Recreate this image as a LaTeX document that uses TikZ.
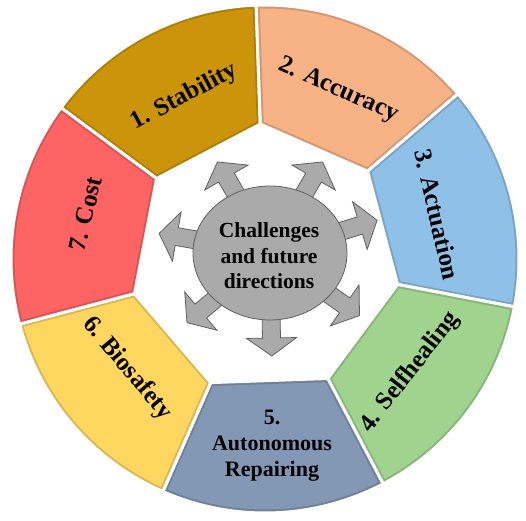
\documentclass[tikz,border=0pt]{standalone}
\usepackage{fontspec}
\setmainfont{Liberation Serif}
\definecolor{cA}{RGB}{204,148,10}
\definecolor{cB}{RGB}{247,178,134}
\definecolor{cC}{RGB}{143,193,232}
\definecolor{cD}{RGB}{160,212,142}
\definecolor{cE}{RGB}{130,152,180}
\definecolor{cF}{RGB}{255,215,96}
\definecolor{cG}{RGB}{255,100,100}
\definecolor{hubfill}{RGB}{170,170,170}
\definecolor{hubline}{RGB}{96,96,96}
\begin{document}
\begin{tikzpicture}[x=1pt,y=1pt,
  seglabel/.style={font=\fontsize{25}{28}\selectfont\bfseries, align=center, inner sep=0pt},
  hubtext/.style={font=\fontsize{21.5}{25.5}\selectfont\bfseries, align=center, inner sep=0pt},
  arrowsty/.style={fill=hubfill, draw=hubline, line width=0.8pt, line join=miter},
  hubsty/.style={fill=hubfill, draw=hubline, line width=0.8pt}]
\useasboundingbox (-265,-261) rectangle (261,259);
% ring segments
\foreach \i/\col in {1/cA,2/cB,3/cC,4/cD,5/cE,6/cF,7/cG}{
  \pgfmathsetmacro\c{117.714-(\i-1)*51.4286}
  \pgfmathsetmacro\a{\c-25.714}
  \pgfmathsetmacro\b{\c+25.714}
  \fill[\col] (\a:135) -- (\a:254) arc[start angle=\a,end angle=\b,radius=254] -- (\b:135) -- cycle;
  \begin{scope}
    \clip (\a:135) -- (\a:254) arc[start angle=\a,end angle=\b,radius=254] -- (\b:135) -- cycle;
    \draw[\col!85!black, line width=7pt, line join=round] (\a:135) -- (\a:254) arc[start angle=\a,end angle=\b,radius=254] -- (\b:135) -- cycle;
  \end{scope}
  \draw[white, line width=3pt, line join=round] (\a:135) -- (\a:254) arc[start angle=\a,end angle=\b,radius=254] -- (\b:135) -- cycle;
}
% labels
\node[seglabel, rotate=28] (s1) at (116.5:181) {1. Stability};
\node[seglabel, rotate=-24] (s2) at (66.5:184) {2. Accuracy};
\node[seglabel, rotate=-77] (s3) at (14.5:178) {3. Actuation};
\node[seglabel, rotate=52] (s4) at (-38:184) {4. Selfhealing};
\node[font=\fontsize{22}{26}\selectfont\bfseries, align=center, inner sep=0pt] (s5) at (7,-187) {5.\\Autonomous\\Repairing};
\node[seglabel, rotate=-50] (s6) at (-141.5:176) {6. Biosafety};
\node[seglabel, rotate=77] (s7) at (166:185) {7. Cost};
% hub arrows
\foreach \ang in {120,60,17,-35,-89,-140,170}{
  \pgfmathsetmacro\rr{5159/sqrt((67*cos(\ang))^2+(77*sin(\ang))^2)}
  \pgfmathsetmacro\L{\rr+36}
  \pgfmathsetmacro\H{\L-18}
  \draw[arrowsty, shift={(5,6)}, rotate=\ang] (0,-9) -- (\H,-9) -- (\H,-25) -- (\L,0) -- (\H,25) -- (\H,9) -- (0,9) -- cycle;
}
\draw[hubsty] (5,6) ellipse[x radius=77, y radius=67];
\node[hubtext] (hub) at (4,3) {Challenges\\and future\\directions};
\end{tikzpicture}
\end{document}
